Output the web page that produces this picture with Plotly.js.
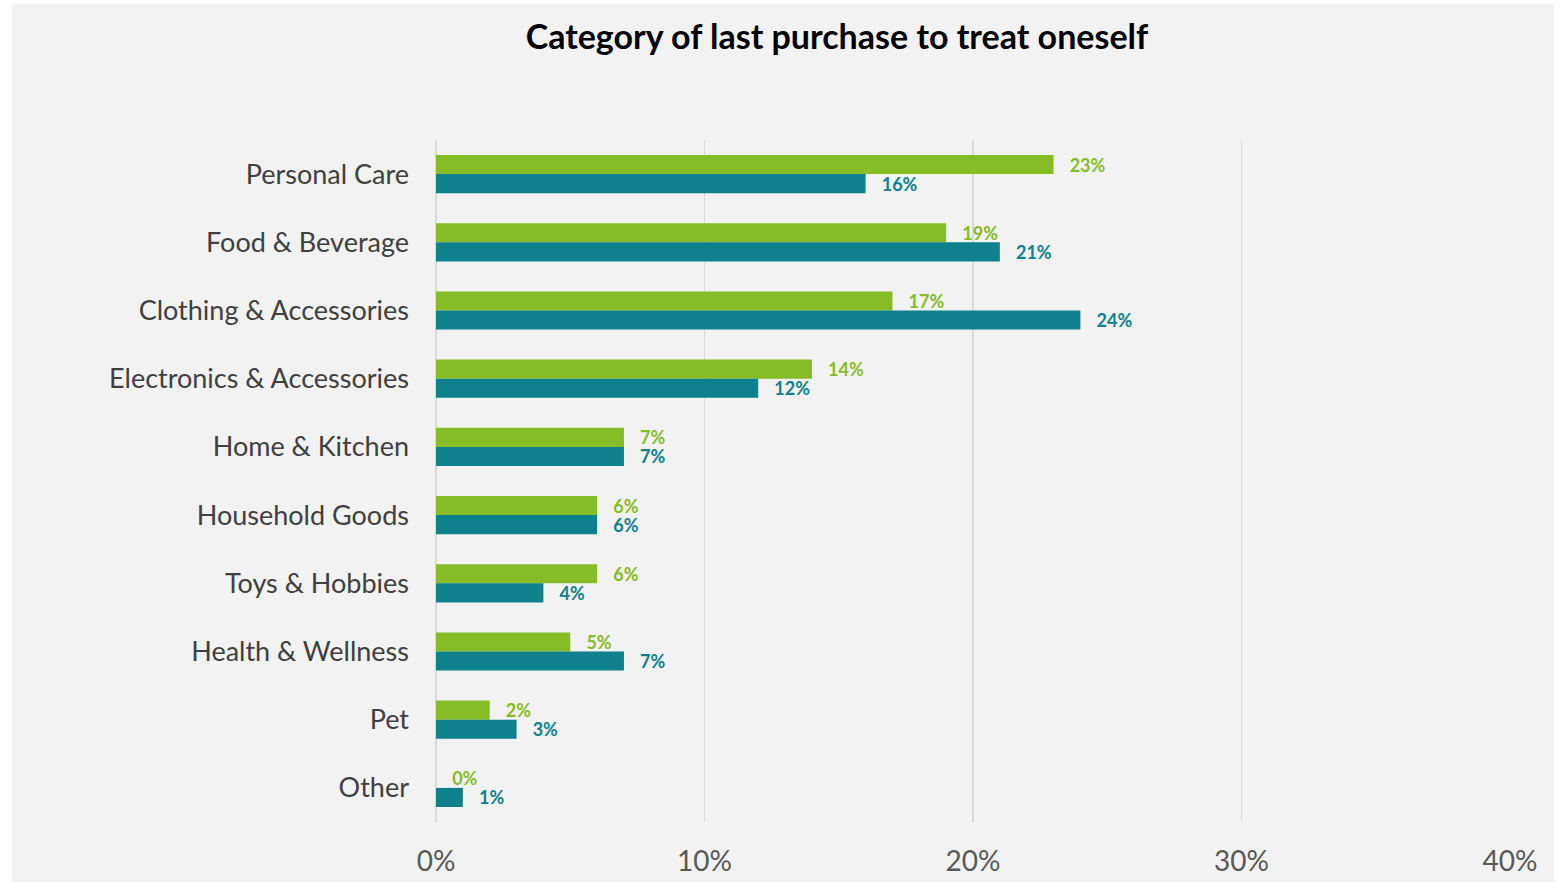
<!DOCTYPE html>
<html>
<head>
<meta charset="utf-8">
<script src="https://cdn.plot.ly/plotly-3.0.1.min.js"></script>
<style>
  html, body { margin: 0; padding: 0; background: #ffffff; }
  #chart { position: absolute; left: 12px; top: 4px; width: 1542px; height: 878px; }
</style>
</head>
<body>
<div id="chart"></div>
<script>
const categories = [
  "Personal Care",
  "Food & Beverage",
  "Clothing & Accessories",
  "Electronics & Accessories",
  "Home & Kitchen",
  "Household Goods",
  "Toys & Hobbies",
  "Health & Wellness",
  "Pet",
  "Other"
];
const seriesGreen = [23, 19, 17, 14, 7, 6, 6, 5, 2, 0];
const seriesTeal  = [16, 21, 24, 12, 7, 6, 4, 7, 3, 1];
const xTickVals = [0, 10, 20, 30, 40];
const xTickText = ["0%", "10%", "20%", "30%", "40%"];

const GREEN = "#86bc25";
const TEAL = "#0e818c";
const FONT = "Lato, 'Open Sans', sans-serif";
const pad = "\u00a0\u00a0\u00a0";

const traces = [
  {
    type: "bar", orientation: "h", name: "Series 1",
    y: categories, x: seriesGreen,
    marker: { color: GREEN },
    text: seriesGreen.map(v => pad + v + "%"), textposition: "outside", cliponaxis: false,
    constraintext: "none",
    textfont: { family: FONT, size: 18, color: GREEN, weight: "bold" },
    hoverinfo: "skip"
  },
  {
    type: "bar", orientation: "h", name: "Series 2",
    y: categories, x: seriesTeal,
    marker: { color: TEAL },
    text: seriesTeal.map(v => pad + v + "%"), textposition: "outside", cliponaxis: false,
    constraintext: "none",
    textfont: { family: FONT, size: 18, color: TEAL, weight: "bold" },
    hoverinfo: "skip"
  }
];

const layout = {
  width: 1542, height: 878,
  paper_bgcolor: "#f2f2f2", plot_bgcolor: "#f2f2f2",
  margin: { l: 424, r: 44, t: 136, b: 60 },
  showlegend: false,
  barmode: "group", bargap: 0.44, bargroupgap: 0,
  title: {
    text: "<b>Category of last purchase to treat oneself</b>",
    x: 0.535, xanchor: "center", y: 0.962, yanchor: "middle",
    font: { family: FONT, size: 34, color: "#000000" }
  },
  xaxis: {
    range: [0, 40], tickvals: xTickVals, ticktext: xTickText,
    showgrid: true, gridcolor: "#d9d9d9", gridwidth: 1.5,
    zeroline: true, zerolinecolor: "#d9d9d9", zerolinewidth: 2,
    showline: false, ticks: "",
    tickfont: { family: FONT, size: 28, color: "#595959" },
    ticklabelstandoff: 20, fixedrange: true
  },
  yaxis: {
    type: "category", categoryorder: "array", categoryarray: categories,
    autorange: "reversed",
    showgrid: false, zeroline: false, showline: false, ticks: "",
    tickfont: { family: FONT, size: 27, color: "#404040" },
    ticklabelstandoff: 26, fixedrange: true
  },
  font: { family: FONT }
};

Plotly.newPlot("chart", traces, layout, { displayModeBar: false, staticPlot: true });
</script>
</body>
</html>
